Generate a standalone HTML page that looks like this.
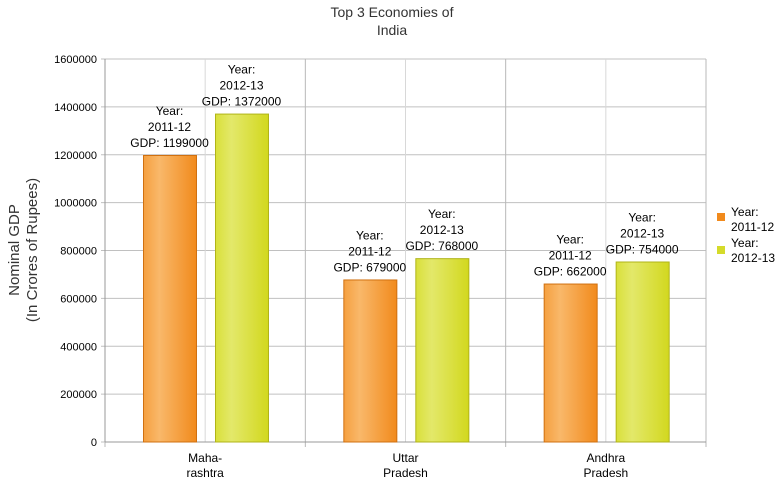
<!DOCTYPE html>
<html><head><meta charset="utf-8"><style>
body{margin:0;background:#fff}
svg{display:block;font-family:"Liberation Sans",Arial,sans-serif}
</style></head><body>
<svg id="chart" width="783" height="482">
<defs>
<linearGradient id="gO" x1="0" x2="1"><stop offset="0" stop-color="#f5a040"/><stop offset="0.3" stop-color="#f9b86a"/><stop offset="1" stop-color="#f18a1c"/></linearGradient>
<linearGradient id="gY" x1="0" x2="1"><stop offset="0" stop-color="#d9e03a"/><stop offset="0.3" stop-color="#e3e86a"/><stop offset="1" stop-color="#d2d81e"/></linearGradient>
</defs>
<text x="392" y="17" text-anchor="middle" font-size="14" fill="#333"><tspan x="392">Top 3 Economies of</tspan><tspan x="392" dy="18">India</tspan></text>
<text transform="translate(19,250) rotate(-90)" text-anchor="middle" font-size="15" fill="#333"><tspan x="0" y="0">Nominal GDP</tspan><tspan x="0" dy="18">(In Crores of Rupees)</tspan></text>
<g id="grid"></g><g id="bars"></g><g id="labels"></g>
<g>
<rect x="717" y="213" width="8" height="8" fill="#f18a1c"/>
<text x="731" y="216" font-size="12" fill="#000"><tspan x="731">Year:</tspan><tspan x="731" dy="15">2011-12</tspan></text>
<rect x="717" y="246" width="8" height="8" fill="#d5db2a"/>
<text x="731" y="247" font-size="12" fill="#000"><tspan x="731">Year:</tspan><tspan x="731" dy="15">2012-13</tspan></text>
</g>
</svg>
<script>
const categories=[["Maha-","rashtra"],["Uttar","Pradesh"],["Andhra","Pradesh"]];
const seriesNames=["2011-12","2012-13"];
const gdp2011=[1199000,679000,662000];
const gdp2012=[1372000,768000,754000];
const yTicks=[0,200000,400000,600000,800000,1000000,1200000,1400000,1600000];
const NS="http://www.w3.org/2000/svg";
const L=105,R=706,T=59,B=442,yMax=1600000;
const y=v=>B-(v/yMax)*(B-T);
const cw=(R-L)/categories.length;
const x=i=>L+i*cw;
function mk(tag,attrs,parent){const e=document.createElementNS(NS,tag);for(const k in attrs)e.setAttribute(k,attrs[k]);parent.appendChild(e);return e;}
const grid=document.getElementById('grid'),bars=document.getElementById('bars'),labels=document.getElementById('labels');
yTicks.forEach(t=>{
 const l=mk('line',{x1:L-4,x2:R,y1:y(t),y2:y(t),stroke:'#c0c0c0'},grid);
 
 
 const tx=mk('text',{x:L-8,y:y(t)+4,'text-anchor':'end','font-size':11,fill:'#000'},grid);
 tx.textContent=t;
 
 
});
for(let i=0;i<=categories.length*2;i++){
 const xx=L+i*cw/2;
 const l=mk('line',{x1:xx,x2:xx,y1:T,y2:B+(i%2?0:5),stroke:i%2?'#d8d8d8':'#b8b8b8'},grid);
 
 
}
mk('line',{x1:L,x2:L,y1:T,y2:B,stroke:'#999'},grid);
mk('line',{x1:L,x2:R,y1:B,y2:B,stroke:'#999'},grid);
const series=[gdp2011,gdp2012],fills=['url(#gO)','url(#gY)'],strokes=['#d07010','#b0b418'];
categories.forEach((c,i)=>{
 const tx=mk('text',{x:x(i)+cw/2,y:B+20,'text-anchor':'middle','font-size':12,fill:'#000'},labels);
 
 
 c.forEach((s,j)=>{const t=mk('tspan',{x:x(i)+cw/2,dy:j?15:0},tx);t.textContent=s;});
 series.forEach((d,s)=>{
  const bx=x(i)+38+s*72,bw=53;
  const r=mk('rect',{x:bx+0.5,y:y(d[i])+0.5,width:bw,height:B-y(d[i])-0.5,fill:fills[s],stroke:strokes[s]},bars);
  
  
  const lb=mk('text',{'text-anchor':'middle','font-size':12,fill:'#000'},labels);
  
  
  const cx=bx+bw/2,top=y(d[i]);
  ["Year:",seriesNames[s],"GDP: "+d[i]].forEach((t,j)=>{const sp=mk('tspan',{x:cx,y:top-40+j*16},lb);sp.textContent=t;});
 });
});
</script>
</body></html>
